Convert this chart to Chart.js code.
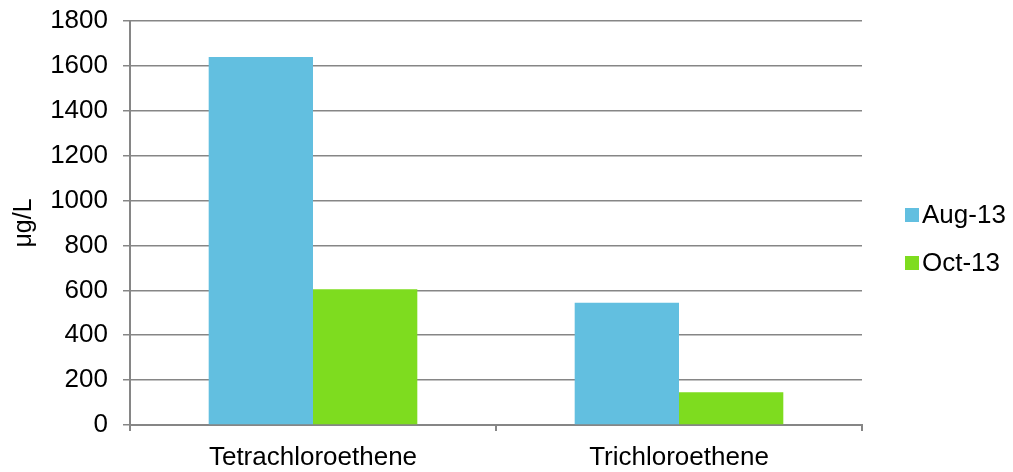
<!DOCTYPE html>
<html>
<head>
<meta charset="utf-8">
<style>
  html, body { margin: 0; padding: 0; background: #ffffff; }
  #wrap { width: 1013px; height: 472px; }
</style>
<script src="https://cdn.jsdelivr.net/npm/chart.js@4/dist/chart.umd.min.js"></script>
</head>
<body>
<div id="wrap"><canvas id="chart" width="1013" height="472"></canvas></div>
<script>
// Sample results per compound
const categories = ['Tetrachloroethene', 'Trichloroethene'];
const seriesNames = ['Aug-13', 'Oct-13'];
const aug13 = [1640, 545];
const oct13 = [605, 146];
const yTicks = [0, 200, 400, 600, 800, 1000, 1200, 1400, 1600, 1800];

const FONT = '"Liberation Sans", Arial, sans-serif';
const FONT_SIZE = 26;
const AXIS_GREY = '#868686';
const colours = ['#62BFE0', '#7EDC1F'];

// Legend drawn to the right of the plot, one row per dataset
const sideLegend = {
  id: 'sideLegend',
  afterDraw(chart) {
    const ctx = chart.ctx;
    const x0 = 905, box = 14, rowY = [215, 263];
    ctx.save();
    ctx.font = FONT_SIZE + 'px ' + FONT;
    ctx.textBaseline = 'middle';
    ctx.textAlign = 'left';
    chart.data.datasets.forEach((ds, i) => {
      ctx.fillStyle = ds.backgroundColor;
      ctx.fillRect(x0, rowY[i] - box / 2, box, box);
      ctx.fillStyle = '#000000';
      ctx.fillText(ds.label, x0 + box + 3, rowY[i] + 1);
    });
    ctx.restore();
  }
};

new Chart(document.getElementById('chart'), {
  type: 'bar',
  data: {
    labels: categories,
    datasets: [
      { label: seriesNames[0], data: aug13, backgroundColor: colours[0] },
      { label: seriesNames[1], data: oct13, backgroundColor: colours[1] }
    ]
  },
  options: {
    responsive: false,
    animation: false,
    devicePixelRatio: 1,
    layout: { padding: { top: 21, right: 151, left: 0, bottom: 0 } },
    datasets: { bar: { categoryPercentage: 0.57, barPercentage: 1.0, borderWidth: 0 } },
    plugins: { legend: { display: false }, tooltip: { enabled: false } },
    scales: {
      x: {
        afterFit(scale) { scale.height = 47; scale.paddingLeft = 0; scale.paddingRight = 0; },
        grid: { drawOnChartArea: false, drawTicks: true, tickLength: 6, color: AXIS_GREY, lineWidth: 2, offset: true },
        border: { display: true, color: AXIS_GREY, width: 2 },
        ticks: { color: '#000000', font: { family: FONT, size: FONT_SIZE }, padding: 11, maxRotation: 0 }
      },
      y: {
        min: 0,
        max: 1800,
        afterFit(scale) { scale.width = 130; scale.paddingTop = 0; scale.paddingBottom = 0; },
        afterBuildTicks(scale) { scale.ticks = yTicks.map(v => ({ value: v })); },
        grid: { color: AXIS_GREY, lineWidth: 1.5, drawTicks: true, tickLength: 7 },
        border: { display: true, color: AXIS_GREY, width: 2 },
        ticks: { color: '#000000', font: { family: FONT, size: FONT_SIZE }, padding: 15, callback: v => String(v) },
        title: { display: true, text: 'μg/L', color: '#000000', font: { family: FONT, size: 25 }, padding: { top: 9, bottom: 0 } }
      }
    }
  },
  plugins: [sideLegend]
});
</script>
</body>
</html>
